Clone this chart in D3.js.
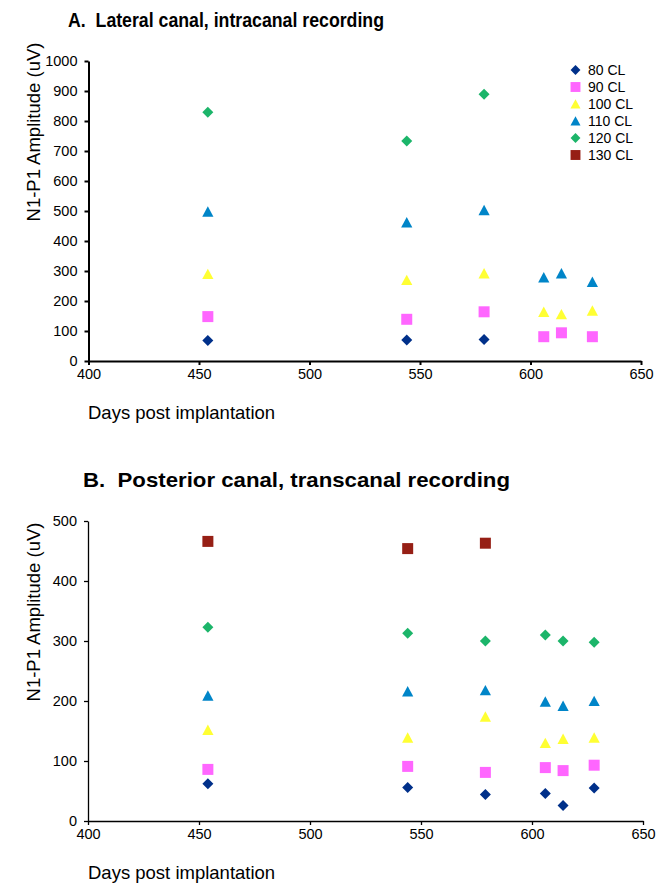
<!DOCTYPE html>
<html>
<head>
<meta charset="utf-8">
<script src="https://cdn.jsdelivr.net/npm/d3@7"></script>
<style>
  body { margin: 0; background: #fff; }
  svg { display: block; font-family: Arial, "Liberation Sans", sans-serif; }
</style>
</head>
<body>
<svg id="chart" width="656" height="884"></svg>
<script>
// days post implantation (shared by both panels)
const days = [454, 544, 579, 606, 614, 628];
const seriesNames = ["80 CL", "90 CL", "100 CL", "110 CL", "120 CL", "130 CL"];
const seriesColors = ["#00308a", "#ff66ff", "#ffff33", "#0085c8", "#1cb56a", "#961f15"];
const seriesShapes = ["diamond", "square", "triangle", "triangle", "diamond", "square"];

// panel A: one row per series, null = no recording
const lateralAmp = [
  [68, 70, 72, null, null, null],
  [148, 139, 164, 81, 94, 81],
  [290, 270, 292, 164, 156, 168],
  [498, 462, 503, 279, 292, 264],
  [829, 733, 889, null, null, null],
  [null, null, null, null, null, null]
];
// panel B
const posteriorAmp = [
  [62, 56, 44, 46, 26, 55],
  [86, 91, 81, 89, 84, 93],
  [152, 139, 174, 130, 137, 139],
  [209, 216, 218, 199, 192, 200],
  [323, 313, 300, 310, 300, 298],
  [466, 454, 463, null, null, null]
];

const xTicks = [400, 450, 500, 550, 600, 650];
const yTicksA = [0, 100, 200, 300, 400, 500, 600, 700, 800, 900, 1000];
const yTicksB = [0, 100, 200, 300, 400, 500];

const svg = d3.select("#chart");

function shapePath(shape) {
  if (shape == "diamond") return "M0,-5.5L5.5,0L0,5.5L-5.5,0Z";
  if (shape == "square") return "M-5.5,-5.5H5.5V5.5H-5.5Z";
  return "M0,-5.3L5.6,5.1H-5.6Z";
}

function drawPanel(opt) {
  var g = svg.append("g");

  var x = d3.scaleLinear().domain([400, 650]).range([opt.left, opt.right]);
  var y = d3.scaleLinear().domain([0, opt.yMax]).range([opt.bottom, opt.top]);

  // title
  g.append("text")
    .attr("x", opt.titleX)
    .attr("y", opt.titleY)
    .attr("textLength", opt.titleLen)
    .attr("lengthAdjust", "spacingAndGlyphs")
    .style("white-space", "pre")
    .style("font-size", "21px")
    .style("font-weight", "bold")
    .style("fill", "#000")
    .text(opt.title);

  // axes
  var xAxis = g.append("g")
    .attr("transform", "translate(0," + opt.bottom + ")")
    .call(d3.axisBottom(x).tickValues(xTicks).tickSize(4).tickSizeOuter(0).tickPadding(4).tickFormat(d3.format("d")));
  var yAxis = g.append("g")
    .attr("transform", "translate(" + opt.left + ",0)")
    .call(d3.axisLeft(y).tickValues(opt.yTicks).tickSize(4).tickSizeOuter(0).tickPadding(7).tickFormat(d3.format("d")));

  [xAxis, yAxis].forEach(function (a) {
    a.select(".domain").attr("stroke", "#000").attr("stroke-width", opt.axisWidth);
    a.selectAll(".tick line").attr("stroke", "#000").attr("stroke-width", opt.axisWidth);
    a.selectAll(".tick text")
      .style("font-size", "14.5px")
      .style("font-family", "Arial, 'Liberation Sans', sans-serif")
      .attr("fill", "#000");
  });

  // axis titles
  g.append("text")
    .attr("transform", "translate(" + opt.yTitleX + "," + opt.yTitleY + ") rotate(-90)")
    .attr("text-anchor", "middle")
    .style("font-size", "18.5px")
    .text("N1-P1 Amplitude (uV)");
  g.append("text")
    .attr("x", 88)
    .attr("y", opt.xTitleY)
    .style("font-size", "18.5px")
    .text("Days post implantation");

  // points
  opt.values.forEach(function (row, s) {
    row.forEach(function (v, i) {
      if (v == null) return;
      g.append("path")
        .attr("d", shapePath(seriesShapes[s]))
        .attr("transform", "translate(" + x(days[i]) + "," + y(v) + ")")
        .attr("fill", seriesColors[s]);
    });
  });
}

drawPanel({
  title: "A.  Lateral canal, intracanal recording",
  titleX: 68, titleY: 27, titleLen: 316,
  values: lateralAmp, yMax: 1000, yTicks: yTicksA,
  left: 88.5, right: 641, top: 61, bottom: 361,
  axisWidth: 2,
  yTitleX: 40, yTitleY: 132, xTitleY: 419
});

drawPanel({
  title: "B.  Posterior canal, transcanal recording",
  titleX: 83, titleY: 487, titleLen: 427,
  values: posteriorAmp, yMax: 500, yTicks: yTicksB,
  left: 88, right: 643, top: 521, bottom: 821,
  axisWidth: 1.3,
  yTitleX: 40, yTitleY: 612, xTitleY: 879
});

// legend (top panel)
var legend = svg.append("g");
seriesNames.forEach(function (name, s) {
  var ly = 70 + s * 17;
  legend.append("path")
    .attr("d", shapePath(seriesShapes[s]))
    .attr("transform", "translate(575.5," + ly + ") scale(0.9)")
    .attr("fill", seriesColors[s]);
  legend.append("text")
    .attr("x", 588)
    .attr("y", ly + 5)
    .style("font-size", "14px")
    .text(name);
});
</script>
</body>
</html>
